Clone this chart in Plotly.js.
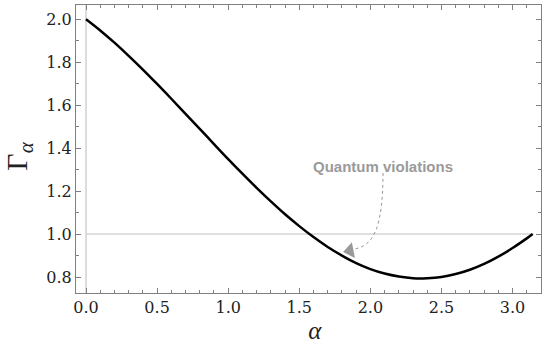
<!DOCTYPE html>
<html>
<head>
<meta charset="utf-8">
<script src="https://cdn.plot.ly/plotly-3.0.1.min.js"></script>
<style>html,body{margin:0;padding:0;background:#fff;}#chart{width:548px;height:357px;}</style>
</head>
<body>
<div id="chart"></div>
<script>
// Values
const alphaValues = [0, 0.1, 0.2, 0.3, 0.4, 0.5, 0.6, 0.7, 0.8, 0.9, 1.0, 1.1, 1.2, 1.3, 1.4, 1.5,
  1.6, 1.7, 1.8, 1.9, 2.0, 2.1, 2.2, 2.3, 2.4, 2.5, 2.6, 2.7, 2.8, 2.9, 3.0, 3.1, 3.1416];
const gammaValues = [2.000, 1.948, 1.891, 1.830, 1.766, 1.699, 1.630, 1.560, 1.490, 1.419, 1.349,
  1.281, 1.215, 1.152, 1.092, 1.037, 0.986, 0.940, 0.900, 0.865, 0.837, 0.816, 0.802, 0.794,
  0.794, 0.800, 0.814, 0.834, 0.861, 0.895, 0.935, 0.980, 1.000];
const boundX = [0, 3.1416];
const boundY = [1, 1];
const xTickValues = [0, 0.5, 1.0, 1.5, 2.0, 2.5, 3.0];
const xTickLabels = ['0.0', '0.5', '1.0', '1.5', '2.0', '2.5', '3.0'];
const yTickValues = [0.8, 1.0, 1.2, 1.4, 1.6, 1.8, 2.0];
const yTickLabels = ['0.8', '1.0', '1.2', '1.4', '1.6', '1.8', '2.0'];
const noteText = 'Quantum violations';
const noteAnchor = [2.089, 1.268];
const arrowHeadAt = [1.8565, 0.9223];
const arrowPath = 'M 2.089,1.285 C 2.087,1.02 2.02,0.945 1.88,0.929';

const frameColor = '#808080';
const tickFont = {family: 'DejaVu Serif', size: 16, color: '#222'};

const traces = [
  {x: boundX, y: boundY, mode: 'lines', line: {color: '#d4d4d4', width: 1.6}, hoverinfo: 'skip', showlegend: false},
  {x: alphaValues, y: gammaValues, mode: 'lines', line: {color: '#000', width: 2.5, shape: 'spline'}, showlegend: false},
  {x: [arrowHeadAt[0]], y: [arrowHeadAt[1]], mode: 'markers', hoverinfo: 'skip', showlegend: false,
   marker: {symbol: 'triangle-left', size: 14, angle: -11, color: '#9a9a9a', line: {width: 0}}}
];

function axisBase() {
  return {
    showline: true, linecolor: frameColor, linewidth: 1, mirror: 'ticks',
    ticks: 'inside', ticklen: 5, tickwidth: 1, tickcolor: frameColor,
    showgrid: false, zeroline: false, tickfont: {family: tickFont.family, size: tickFont.size, color: tickFont.color},
    tickmode: 'array'
  };
}

const layout = {
  width: 548, height: 357,
  margin: {l: 76, r: 7, t: 5, b: 64},
  paper_bgcolor: '#fff', plot_bgcolor: '#fff',
  font: {family: 'Liberation Serif', color: '#222'},
  xaxis: Object.assign(axisBase(), {
    range: [-0.0703, 3.2], tickvals: xTickValues, ticktext: xTickLabels, ticklabelstandoff: 0,
    minor: {dtick: 0.1, tick0: 0, ticks: 'inside', ticklen: 3, tickcolor: frameColor, tickwidth: 1},
    title: {text: '&nbsp;&nbsp;<i>α</i>', font: {family: 'Liberation Serif', size: 25, color: '#222'}, standoff: 1}
  }),
  yaxis: Object.assign(axisBase(), {
    range: [0.7256, 2.0665], tickvals: yTickValues, ticktext: yTickLabels, ticklabelstandoff: 0,
    minor: {dtick: 0.1, tick0: 0, ticks: 'inside', ticklen: 3, tickcolor: frameColor, tickwidth: 1},
    title: {text: 'Γ<sub><i>α</i></sub>&nbsp;&nbsp;', font: {family: 'Liberation Serif', size: 30, color: '#222'}, standoff: 10}
  }),
  shapes: [
    {type: 'line', xref: 'x', yref: 'paper', x0: 0, x1: 0, y0: 0, y1: 1, line: {color: '#d4d4d4', width: 1.6}, layer: 'below'},
    {type: 'path', xref: 'x', yref: 'y', path: arrowPath, line: {color: '#999', width: 1, dash: 'dot'}}
  ],
  annotations: [
    {x: noteAnchor[0], y: noteAnchor[1], xref: 'x', yref: 'y', text: '<b>' + noteText + '</b>', showarrow: false,
     font: {family: 'Liberation Sans', size: 15, color: '#9a9a9a'}, yanchor: 'bottom'}
  ]
};

Plotly.newPlot('chart', traces, layout, {displayModeBar: false, staticPlot: true});
</script>
</body>
</html>
